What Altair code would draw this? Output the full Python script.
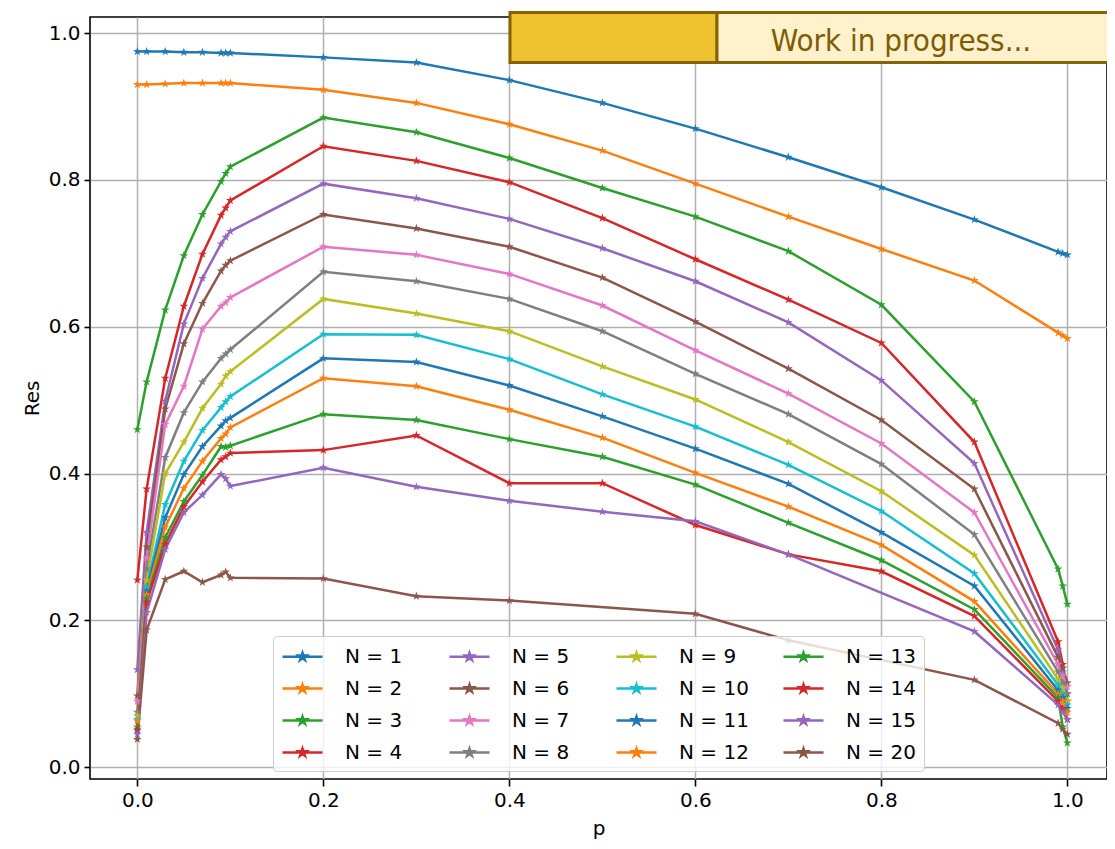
import altair as alt
import pandas as pd

# ---------------- data ----------------
P = [0.0, 0.01, 0.03, 0.05, 0.07, 0.09, 0.095, 0.1, 0.2, 0.3, 0.4, 0.5,
     0.6, 0.7, 0.8, 0.9, 0.99, 0.995, 1.0]

RES_N1 = [0.975, 0.975, 0.975, 0.974, 0.974, 0.973, 0.973, 0.973, 0.967, 0.960,
          0.936, 0.905, 0.870, 0.831, 0.790, 0.746, 0.702, 0.700, 0.698]
RES_N2 = [0.930, 0.930, 0.931, 0.932, 0.932, 0.932, 0.932, 0.932, 0.923, 0.905,
          0.876, 0.840, 0.795, 0.750, 0.706, 0.663, 0.592, 0.588, 0.584]
RES_N3 = [0.460, 0.525, 0.623, 0.697, 0.753, 0.798, 0.809, 0.818, 0.885, 0.865,
          0.830, 0.789, 0.750, 0.703, 0.630, 0.498, 0.270, 0.247, 0.222]
RES_N4 = [0.255, 0.379, 0.530, 0.628, 0.699, 0.752, 0.762, 0.772, 0.846, 0.826,
          0.797, 0.748, 0.692, 0.637, 0.578, 0.443, 0.171, 0.140, 0.090]
RES_N5 = [0.133, 0.320, 0.499, 0.604, 0.666, 0.713, 0.722, 0.730, 0.795, 0.775,
          0.747, 0.707, 0.662, 0.606, 0.527, 0.414, 0.160, 0.130, 0.100]
RES_N6 = [0.097, 0.300, 0.488, 0.577, 0.632, 0.676, 0.684, 0.690, 0.753, 0.734,
          0.709, 0.667, 0.607, 0.543, 0.473, 0.379, 0.150, 0.135, 0.115]
RES_N7 = [0.090, 0.285, 0.467, 0.519, 0.597, 0.628, 0.633, 0.640, 0.709, 0.698,
          0.672, 0.629, 0.568, 0.509, 0.441, 0.347, 0.140, 0.125, 0.110]
RES_N8 = [0.075, 0.270, 0.422, 0.483, 0.525, 0.557, 0.563, 0.569, 0.675, 0.662,
          0.638, 0.594, 0.536, 0.481, 0.413, 0.317, 0.130, 0.115, 0.100]
RES_N9 = [0.070, 0.255, 0.400, 0.443, 0.489, 0.522, 0.533, 0.539, 0.638, 0.618,
          0.594, 0.546, 0.501, 0.443, 0.376, 0.289, 0.120, 0.108, 0.090]
RES_N10 = [0.065, 0.245, 0.358, 0.417, 0.459, 0.490, 0.498, 0.505, 0.590, 0.589,
           0.556, 0.508, 0.464, 0.412, 0.349, 0.264, 0.112, 0.100, 0.085]
RES_N11 = [0.050, 0.240, 0.340, 0.399, 0.437, 0.465, 0.472, 0.476, 0.557, 0.552,
           0.520, 0.478, 0.434, 0.386, 0.320, 0.247, 0.105, 0.095, 0.080]
RES_N12 = [0.063, 0.235, 0.327, 0.380, 0.417, 0.448, 0.454, 0.463, 0.530, 0.519,
           0.487, 0.449, 0.401, 0.355, 0.303, 0.226, 0.100, 0.090, 0.075]
RES_N13 = [0.055, 0.230, 0.313, 0.362, 0.398, 0.437, 0.436, 0.438, 0.481, 0.473,
           0.447, 0.423, 0.385, 0.333, 0.282, 0.215, 0.095, 0.055, 0.033]
RES_N14 = [0.052, 0.225, 0.304, 0.355, 0.389, 0.419, 0.423, 0.428, 0.432, 0.452,
           0.387, 0.387, 0.330, 0.290, 0.267, 0.206, 0.090, 0.080, 0.065]
RES_N15 = [0.045, 0.211, 0.297, 0.347, 0.371, 0.399, 0.393, 0.383, 0.408, 0.382,
           0.363, 0.348, 0.335, 0.290, None, 0.185, 0.085, 0.075, 0.065]
RES_N20 = [0.038, 0.187, 0.256, 0.267, 0.252, 0.262, 0.266, 0.258, 0.257, 0.233,
           0.227, None, 0.209, 0.173, None, 0.119, 0.060, 0.052, 0.045]

LABELS = ["N = 1", "N = 2", "N = 3", "N = 4", "N = 5", "N = 6", "N = 7", "N = 8",
          "N = 9", "N = 10", "N = 11", "N = 12", "N = 13", "N = 14", "N = 15", "N = 20"]
SERIES = [RES_N1, RES_N2, RES_N3, RES_N4, RES_N5, RES_N6, RES_N7, RES_N8,
          RES_N9, RES_N10, RES_N11, RES_N12, RES_N13, RES_N14, RES_N15, RES_N20]
COLORS = ["#1f77b4", "#ff7f0e", "#2ca02c", "#d62728", "#9467bd", "#8c564b",
          "#e377c2", "#7f7f7f", "#bcbd22", "#17becf", "#1f77b4", "#ff7f0e",
          "#2ca02c", "#d62728", "#9467bd", "#8c564b"]

X_TICKS = [0.0, 0.2, 0.4, 0.6, 0.8, 1.0]
Y_TICKS = [0.0, 0.2, 0.4, 0.6, 0.8, 1.0]
BANNER_TEXT = ["Work in progress..."]

rows = []
for label, values in zip(LABELS, SERIES):
    for p, v in zip(P, values):
        if v is not None:
            rows.append({"p": p, "Res": v, "N": label})
df = pd.DataFrame(rows)

# ---------------- styling ----------------
FONT = "DejaVu Sans"
STAR = ("M0,-1L0.2245,-0.309L0.9511,-0.309L0.3633,0.118L0.5878,0.809L0,0.382"
        "L-0.5878,0.809L-0.3633,0.118L-0.9511,-0.309L-0.2245,-0.309Z")
LEGEND_SYMBOL = ("M0,-0.36L0.0808,-0.1112L0.3424,-0.1112L0.1308,0.0425L0.2116,0.2912"
                 "L0,0.1375L-0.2116,0.2912L-0.1308,0.0425L-0.3424,-0.1112L-0.0808,-0.1112Z"
                 "M-1.82,0L1.82,0")

x = alt.X("p:Q", title="p",
          scale=alt.Scale(domain=[-0.0509, 1.0426], nice=False, zero=False),
          axis=alt.Axis(values=X_TICKS, format=".1f", tickSize=7, labelPadding=4,
                        titlePadding=8))
y = alt.Y("Res:Q", title="Res",
          scale=alt.Scale(domain=[-0.016, 1.022], nice=False, zero=False),
          axis=alt.Axis(values=Y_TICKS, format=".1f", tickSize=6, labelPadding=4,
                        titlePadding=6))
color = alt.Color(
    "N:N", sort=LABELS,
    scale=alt.Scale(domain=LABELS, range=COLORS),
    legend=alt.Legend(
        title=None, orient="none", legendX=183, legendY=619,
        direction="vertical", columns=4, gridAlign="all",
        symbolType=LEGEND_SYMBOL, symbolSize=484, symbolStrokeWidth=2.5,
        symbolOpacity=1, symbolOffset=9,
        labelFont=FONT, labelFontSize=20, labelColor="black", labelOffset=30,
        labelLimit=200,
        columnPadding=29, rowPadding=9, padding=8,
        fillColor="rgba(255,255,255,0.8)", strokeColor="#cccccc", cornerRadius=4,
    ),
)

base = alt.Chart(df).encode(x=x, y=y, color=color)
lines = base.mark_line(strokeWidth=2.5)
points = base.mark_point(shape=STAR, filled=True, size=85, opacity=1)

banner_df = pd.DataFrame({"text": BANNER_TEXT})
gold = alt.Chart(banner_df).mark_rect(
    fill="#EFC232", stroke="#866300", strokeWidth=3
).encode(x=alt.value(420), x2=alt.value(627), y=alt.value(-4.5), y2=alt.value(45.5))
cream = alt.Chart(banner_df).mark_rect(
    fill="#FFF1CC", stroke="#866300", strokeWidth=3
).encode(x=alt.value(627), x2=alt.value(1045), y=alt.value(-4.5), y2=alt.value(45.5))
banner_text = alt.Chart(banner_df).mark_text(
    font="Liberation Sans Narrow, DejaVu Sans Condensed, Roboto",
    fontSize=31, color="#7E5C00", baseline="alphabetic", align="center"
).encode(x=alt.value(811), y=alt.value(34), text="text:N")

chart = alt.layer(lines, points, gold, cream, banner_text).properties(
    width=1017, height=762,
    padding={"left": 82, "top": 9, "right": 0, "bottom": 61},
    autosize=alt.AutoSizeParams(type="none"),
    background="white",
).configure_axis(
    labelFont=FONT, labelFontSize=20, labelColor="black",
    titleFont=FONT, titleFontSize=20, titleFontWeight="normal", titleColor="black",
    tickColor="black", tickWidth=1.6, domain=False,
    grid=True, gridColor="#b0b0b0", gridWidth=1.5,
).configure_view(stroke="black", strokeWidth=1.6)

chart.save("out.html", embed_options={"renderer": "svg", "actions": False})
